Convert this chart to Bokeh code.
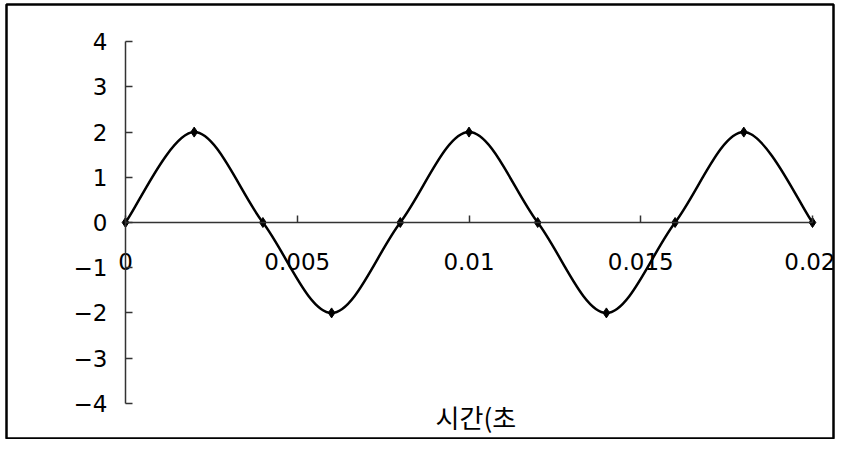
import numpy as np
from bokeh.plotting import figure
from bokeh.models import FixedTicker, Label, Range1d, ColumnDataSource
from bokeh.embed import file_html
from bokeh.resources import INLINE

# data
t_values = [0.0, 0.002, 0.004, 0.006, 0.008, 0.010, 0.012, 0.014, 0.016, 0.018, 0.020]
v_values = [0, 2, 0, -2, 0, 2, 0, -2, 0, 2, 0]
x_ticks = [0, 0.005, 0.01, 0.015, 0.02]
x_tick_labels = ["0", "0.005", "0.01", "0.015", "0.02"]
y_ticks = [-4, -3, -2, -1, 0, 1, 2, 3, 4]
y_tick_labels = ["\u22124", "\u22123", "\u22122", "\u22121", "0", "1", "2", "3", "4"]
x_title = "시간(초"

W, H = 835, 439
ML, MT = 6, 4              # frame offsets inside the figure
FW, FH = 827, H - MT - 1   # frame size
x0_px, xscale = 119.0, 687.0 / 0.02
y0_px, yscale = 218.0, 45.2

p = figure(width=W, height=H, output_backend="svg", toolbar_location=None,
           x_range=Range1d(-x0_px / xscale, (FW - x0_px) / xscale),
           y_range=Range1d(-(FH - y0_px) / yscale, y0_px / yscale),
           min_border_left=ML, min_border_top=MT,
           min_border_right=W - FW - ML, min_border_bottom=H - FH - MT)
p.background_fill_color = "white"
p.border_fill_color = "white"
p.outline_line_color = "black"
p.outline_line_width = 2.5
p.xgrid.visible = False
p.ygrid.visible = False

label_font = "DejaVu Sans"
for ax in (p.xaxis[0], p.yaxis[0]):
    ax.fixed_location = 0
    ax.axis_line_color = "#333333"
    ax.axis_line_width = 1.5
    ax.major_tick_line_color = "#333333"
    ax.major_tick_line_width = 1.5
    ax.major_tick_in = 7
    ax.major_tick_out = 0
    ax.minor_tick_line_color = None
    ax.major_label_text_font = label_font
    ax.major_label_text_font_size = "23px"
    ax.major_label_text_color = "black"

p.xaxis[0].ticker = FixedTicker(ticks=x_ticks)
p.xaxis[0].major_label_overrides = {tk: lb for tk, lb in zip(x_ticks, x_tick_labels)}
p.xaxis[0].bounds = (x_ticks[0], x_ticks[-1])
p.xaxis[0].major_label_standoff = 30

p.yaxis[0].ticker = FixedTicker(ticks=y_ticks)
p.yaxis[0].major_label_overrides = {tk: lb for tk, lb in zip(y_ticks, y_tick_labels)}
p.yaxis[0].bounds = (y_ticks[0], y_ticks[-1])
p.yaxis[0].major_label_standoff = 18

# smooth curve (Catmull-Rom style Bezier through the data points)
pts = np.column_stack([t_values, v_values]).astype(float)
n = len(pts)
x0s, y0s, x1s, y1s, cx0, cy0, cx1, cy1 = [], [], [], [], [], [], [], []
for i in range(n - 1):
    a = pts[i]
    b = pts[i + 1]
    prev = pts[i - 1] if i > 0 else pts[i]
    nxt = pts[i + 2] if i + 2 < n else pts[i + 1]
    c0 = a + (b - prev) / 6.0
    c1 = b - (nxt - a) / 6.0
    x0s.append(a[0]); y0s.append(a[1]); x1s.append(b[0]); y1s.append(b[1])
    cx0.append(c0[0]); cy0.append(c0[1]); cx1.append(c1[0]); cy1.append(c1[1])

src = ColumnDataSource(dict(x0=x0s, y0=y0s, x1=x1s, y1=y1s,
                            cx0=cx0, cy0=cy0, cx1=cx1, cy1=cy1))
p.bezier(x0="x0", y0="y0", x1="x1", y1="y1", cx0="cx0", cy0="cy0",
         cx1="cx1", cy1="cy1", source=src, line_color="black", line_width=2.5)

p.scatter(t_values, v_values, marker="diamond", size=10,
          fill_color="black", line_color="black")

p.add_layout(Label(x=0.0102, y=-4.3, text=x_title, text_align="center",
                   text_baseline="middle", text_font="Noto Sans CJK KR",
                   text_font_size="26px", text_color="black"))

open("out.html", "w").write(file_html(p, INLINE))
